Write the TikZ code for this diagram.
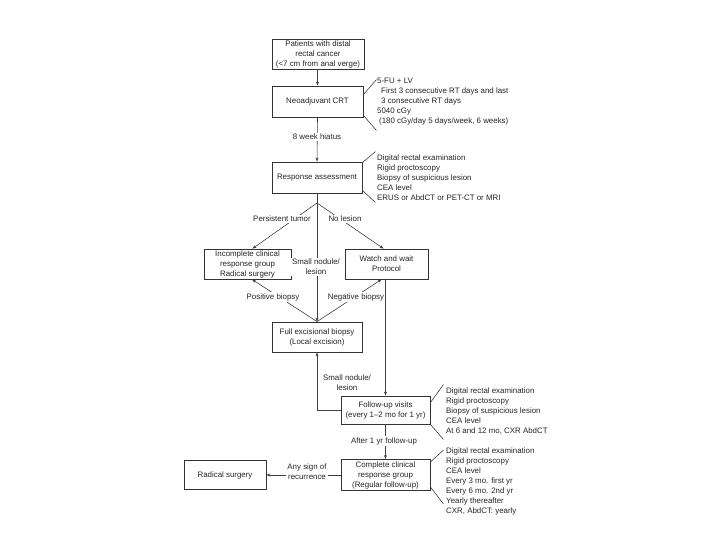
\documentclass[tikz,border=0pt]{standalone}
\usepackage{fontspec}
\setmainfont{Liberation Sans}
\usetikzlibrary{arrows.meta}
\begin{document}
\begin{tikzpicture}[x=1pt,y=-1pt,
  every node/.style={font=\fontsize{7.9}{10}\selectfont, text=black!85},
  box/.style={draw=black!80, line width=0.8pt, rectangle, align=center, inner sep=0.5pt},
  conn/.style={draw=black!75, line width=0.6pt},
  arr/.style={conn, -{Stealth[length=4pt,width=3pt]}},
  lbl/.style={fill=white, inner sep=1pt, align=center},
  note/.style={anchor=north west, align=left, inner sep=0pt}]
\useasboundingbox[fill=white] (0,0) rectangle (720,540);

% boxes
\node[box, minimum width=92pt, minimum height=30pt] (p1) at (318,54) {Patients with distal\\rectal cancer\\(<7 cm from anal verge)};
\node[box, minimum width=91pt, minimum height=31pt] (p2) at (317.5,101.5) {Neoadjuvant CRT};
\node[box, minimum width=90pt, minimum height=31pt] (p3) at (317,177.5) {Response assessment};
\node[box, minimum width=87pt, minimum height=30pt] (inc) at (247.5,264) {Incomplete clinical\\response group\\Radical surgery};
\node[box, minimum width=83pt, minimum height=30pt] (ww) at (386.5,264) {Watch and wait\\Protocol};
\node[box, minimum width=90pt, minimum height=30pt] (full) at (317,337) {Full excisional biopsy\\(Local excision)};
\node[box, minimum width=89pt, minimum height=28pt] (fu) at (385.5,410) {Follow-up visits\\(every 1--2 mo for 1 yr)};
\node[box, minimum width=89pt, minimum height=31pt] (comp) at (385.5,475) {Complete clinical\\response group\\(Regular follow-up)};
\node[box, minimum width=82pt, minimum height=29pt] (rad) at (225,475) {Radical surgery};

\coordinate (split) at (317,203);

% connectors
\draw[arr] (p1.south -| p2.north) -- (p2.north);
\draw[arr] (p2.south) -- (p3.north);
\draw[conn] (p3.south) -- (split);
\draw[arr] (split) -- ([xshift=5pt]inc.north);
\draw[arr] (split) -- ([xshift=-3pt]ww.north);
\draw[arr] (split) -- (full.north);
\draw[arr] (full.north) -- ([xshift=4.5pt]inc.south);
\draw[arr] (full.north) -- ([xshift=-5pt]ww.south);
\draw[arr] (fu.north |- ww.south) -- (fu.north);
\draw[arr] (fu.west) -- (full.south |- fu.west) -- (full.south);
\draw[arr] (fu.south) -- (comp.north);
\draw[arr] (comp.west) -- (rad.east);

% brackets
\draw[conn] ([yshift=-9pt]p2.north east) -- ++(13,-15);
\draw[conn] ([yshift=2pt]p2.south east) -- ++(13,15);
\draw[conn] ([yshift=-1pt]p3.north east) -- ++(13,-11);
\draw[conn] ([yshift=3pt]p3.south east) -- ++(13,12);
\draw[conn] ([yshift=-7pt]fu.north east) -- ++(13,-18);
\draw[conn] (fu.south east) -- ++(13,15);
\draw[conn] ([yshift=-3pt]comp.north east) -- ++(13,-12);
\draw[conn] ([yshift=4pt]comp.south east) -- ++(13,17);

% connector labels
\node[lbl] (l1) at (317,137) {8 week hiatus};
\node[lbl] (l2) at (282,219) {Persistent tumor};
\node[lbl] (l3) at (345,219) {No lesion};
\node[lbl] (l4) at (316,267) {Small nodule/\\lesion};
\node[lbl] (l5) at (273,297) {Positive biopsy};
\node[lbl] (l6) at (356,297) {Negative biopsy};
\node[lbl] (l7) at (347,383) {Small nodule/\\lesion};
\node[lbl] (l8) at (384,441) {After 1 yr follow-up};
\node[lbl] (l9) at (307,472) {Any sign of\\recurrence};

% notes
\node[note] (n1) at (377,78) {5-FU + LV\\\hspace*{4pt}First 3 consecutive RT days and last\\\hspace*{4pt}3 consecutive RT days\\5040 cGy\\\hspace*{2pt}(180 cGy/day 5 days/week, 6 weeks)};
\node[note] (n2) at (377,155) {Digital rectal examination\\Rigid proctoscopy\\Biopsy of suspicious lesion\\CEA level\\ERUS or AbdCT or PET-CT or MRI};
\node[note] (n3) at (446,388) {Digital rectal examination\\Rigid proctoscopy\\Biopsy of suspicious lesion\\CEA level\\At 6 and 12 mo, CXR AbdCT};
\node[note] (n4) at (446,448) {Digital rectal examination\\Rigid proctoscopy\\CEA level\\Every 3 mo. first yr\\Every 6 mo. 2nd yr\\Yearly thereafter\\CXR, AbdCT: yearly};
\end{tikzpicture}
\end{document}
